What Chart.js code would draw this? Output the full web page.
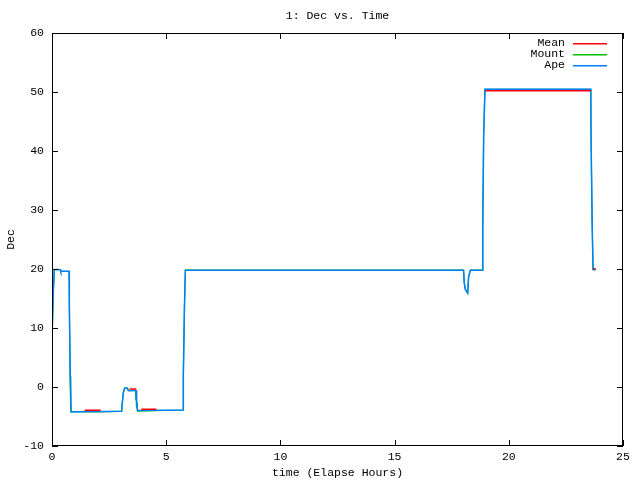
<!DOCTYPE html>
<html>
<head>
<meta charset="utf-8">
<script src="https://cdn.jsdelivr.net/npm/chart.js@4"></script>
<style>
  body { margin: 0; background: #fff; }
</style>
</head>
<body>
<canvas id="myChart" width="640" height="480"></canvas>
<script>
// elapsed hours and declination per series (null = gap in the mean line)
const mean_time = [1.43, 2.13, 2.5, 3.40, 3.69, 3.8, 3.91, 4.57, 10, 18.97, 23.59, 23.65, 23.69, 23.80]
const mean_dec = [-3.95, -3.95, null, -0.35, -0.35, null, -3.75, -3.75, null, 50.2, 50.2, null, 20.05, 20.05]

const mount_time = [0.00, 0.01, 0.06, 0.10, 0.36, 0.38, 0.75, 0.76, 0.79, 0.82, 2.15, 2.20, 3.05, 3.07, 3.12, 3.18, 3.30, 3.34, 3.66, 3.67, 3.73, 3.74, 5.74, 5.75, 5.80, 5.84, 18.02, 18.05, 18.10, 18.20, 18.24, 18.32, 18.85, 18.86, 18.90, 18.95, 23.59, 23.60, 23.65, 23.69, 23.81]
const mount_dec = [6.3, 9.7, 16.3, 19.9, 19.9, 19.6, 19.6, 13.8, 1.9, -4.2, -4.2, -4.2, -4.1, -3.0, -1.0, -0.2, -0.2, -0.6, -0.6, -2.0, -2.8, -4.1, -3.9, 1.9, 13.8, 19.8, 19.8, 17.6, 16.5, 15.9, 18.7, 19.8, 19.8, 27.5, 42.7, 50.45, 50.45, 42.9, 27.6, 19.9, 19.9]

const ape_time = [0.00, 0.01, 0.06, 0.10, 0.36, 0.38, 0.75, 0.76, 0.80, 0.84, 3.05, 3.07, 3.12, 3.18, 3.30, 3.34, 3.68, 3.69, 3.72, 3.75, 5.74, 5.75, 5.80, 5.84, 18.02, 18.05, 18.10, 18.20, 18.24, 18.32, 18.85, 18.86, 18.90, 18.96, 23.59, 23.60, 23.65, 23.69, 23.81]
const ape_dec = [6.3, 9.7, 16.3, 19.9, 19.9, 19.6, 19.6, 13.8, 1.9, -4.2, -4.1, -3.0, -1.0, -0.2, -0.2, -0.6, -0.6, -2.1, -3.3, -4.0, -3.9, 1.9, 13.8, 19.8, 19.8, 17.6, 16.5, 15.9, 18.7, 19.8, 19.8, 27.5, 42.7, 50.45, 50.45, 42.9, 27.6, 19.9, 19.9]

const series_names = ['Mean', 'Mount', 'Ape']
const series_colors = ['#ff0000', '#00c000', '#0080ff']

const x_ticks = [0, 5, 10, 15, 20, 25]
const y_ticks = [-10, 0, 10, 20, 30, 40, 50, 60]

const FONT = '"Liberation Mono", "DejaVu Sans Mono", monospace'
const FONT_SIZE = 11.5

const points = (xs, ys) => xs.map((x, i) => ({ x: x, y: ys[i] }))

const make_set = (i, xs, ys, order, width) => ({
  label: series_names[i],
  data: points(xs, ys),
  borderColor: series_colors[i],
  backgroundColor: series_colors[i],
  borderWidth: width,
  pointRadius: 0,
  showLine: true,
  spanGaps: false,
  tension: 0,
  order: order
})

// gnuplot style frame with inward ticks on all four sides
const frame = {
  id: 'frame',
  afterDraw(chart) {
    const { ctx, chartArea: a, scales: { x, y } } = chart
    const tick = 6
    ctx.save()
    ctx.strokeStyle = '#000'
    ctx.lineWidth = 1
    ctx.strokeRect(a.left + 0.5, a.top + 0.5, a.right - a.left - 1, a.bottom - a.top - 1)
    ctx.beginPath()
    x_ticks.forEach(v => {
      const px = Math.round(x.getPixelForValue(v)) + 0.5
      ctx.moveTo(px, a.bottom)
      ctx.lineTo(px, a.bottom - tick)
      ctx.moveTo(px, a.top)
      ctx.lineTo(px, a.top + tick)
    })
    y_ticks.forEach(v => {
      const py = Math.round(y.getPixelForValue(v)) + 0.5
      ctx.moveTo(a.left, py)
      ctx.lineTo(a.left + tick, py)
      ctx.moveTo(a.right, py)
      ctx.lineTo(a.right - tick, py)
    })
    ctx.stroke()

    // title over the plot area
    ctx.fillStyle = '#000'
    ctx.font = FONT_SIZE + 'px ' + FONT
    ctx.textAlign = 'center'
    ctx.textBaseline = 'middle'
    ctx.fillText('1: Dec vs. Time', (a.left + a.right) / 2, 16)

    // key, top right inside the plot
    ctx.textAlign = 'right'
    series_names.forEach((name, i) => {
      const ly = 43 + i * 11
      ctx.fillStyle = '#000'
      ctx.fillText(name, 565, ly)
      ctx.fillStyle = series_colors[i]
      ctx.fillRect(573, Math.round(ly), 34, 1.5)
    })
    ctx.restore()
  }
}

const data = {
  datasets: [
    make_set(0, mean_time, mean_dec, 0, 1.5),
    make_set(1, mount_time, mount_dec, 2, 1.2),
    make_set(2, ape_time, ape_dec, 1, 1.5)
  ]
}

const config = {
  type: 'scatter',
  data: data,
  options: {
    responsive: false,
    animation: false,
    events: [],
    layout: { padding: { top: 33, right: 17, bottom: 0, left: 0 } },
    plugins: {
      legend: { display: false },
      title: { display: false },
      tooltip: { enabled: false }
    },
    scales: {
      x: {
        type: 'linear',
        min: 0,
        max: 25,
        afterFit: s => { s.height = 34 },
        afterBuildTicks: s => { s.ticks = x_ticks.map(v => ({ value: v })) },
        grid: { display: false, drawTicks: false },
        border: { display: false },
        ticks: { color: '#000', padding: 4, font: { family: FONT, size: FONT_SIZE }, maxRotation: 0 },
        title: { display: true, text: 'time (Elapse Hours)', color: '#000', padding: { top: 0, bottom: 0.5 }, font: { family: FONT, size: FONT_SIZE } }
      },
      y: {
        type: 'linear',
        min: -10,
        max: 60,
        afterFit: s => { s.width = 52 },
        afterBuildTicks: s => { s.ticks = y_ticks.map(v => ({ value: v })) },
        grid: { display: false, drawTicks: false },
        border: { display: false },
        ticks: { color: '#000', padding: 8, font: { family: FONT, size: FONT_SIZE } },
        title: { display: true, text: 'Dec', color: '#000', padding: { top: 4.5, bottom: 0 }, font: { family: FONT, size: FONT_SIZE } }
      }
    }
  },
  plugins: [frame]
}

const myChart = new Chart(document.getElementById('myChart'), config)
</script>
</body>
</html>
